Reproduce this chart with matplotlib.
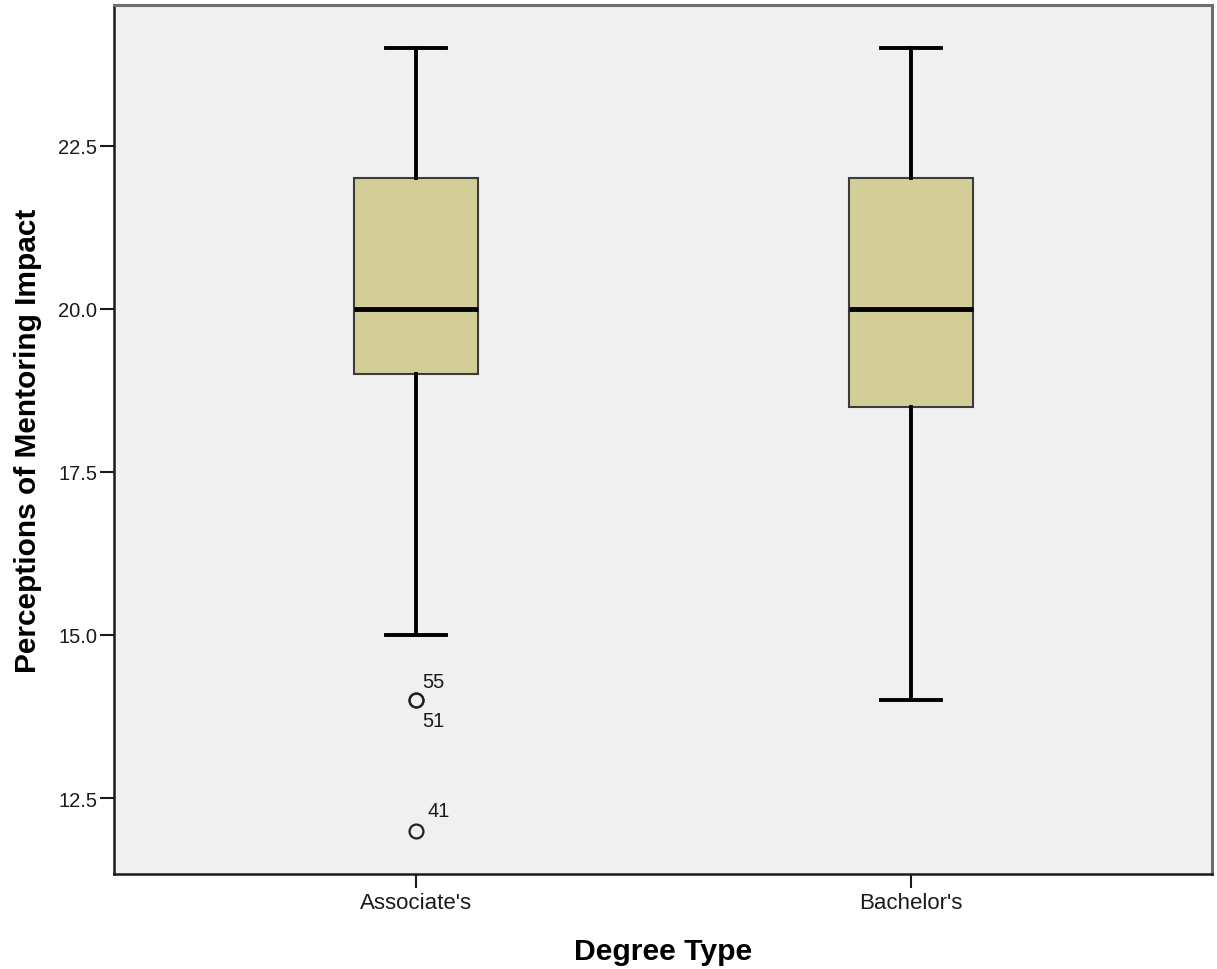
import matplotlib
matplotlib.use("Agg")
import matplotlib.pyplot as plt

# Summary statistics per degree type
groups = ["Associate's", "Bachelor's"]
whisker_low = [15.0, 14.0]
q1 = [19.0, 18.5]
medians = [20.0, 20.0]
q3 = [22.0, 22.0]
whisker_high = [24.0, 24.0]
outliers = [[14.0, 14.0, 12.0], []]
outlier_ids = [["55", "51", "41"], []]

plt.rcParams["font.family"] = ["Liberation Sans", "DejaVu Sans"]

fig = plt.figure(figsize=(12.17, 9.70), dpi=100)
ax = fig.add_axes([0.0937, 0.0979, 0.9022, 0.8959])
ax.set_facecolor("#f0f0f0")

stats = []
for i, name in enumerate(groups):
    stats.append({
        "label": name,
        "whislo": whisker_low[i],
        "q1": q1[i],
        "med": medians[i],
        "q3": q3[i],
        "whishi": whisker_high[i],
        "fliers": outliers[i],
    })

positions = [1, 2]
ax.bxp(stats, positions=positions, widths=0.25, patch_artist=True,
       showfliers=True, capwidths=0.12,
       boxprops=dict(facecolor="#d3ce97", edgecolor="#3c3c3c", linewidth=1.5),
       medianprops=dict(color="black", linewidth=3.5),
       whiskerprops=dict(color="black", linewidth=2.8),
       capprops=dict(color="black", linewidth=2.8),
       flierprops=dict(marker="o", markersize=10, markerfacecolor="none",
                       markeredgecolor="#222222", markeredgewidth=1.6))

# case labels beside the outliers
label_offsets = {"55": (6, 19), "51": (6, -20), "41": (11, 20)}
for i, ids in enumerate(outlier_ids):
    for val, cid in zip(outliers[i], ids):
        dx, dy = label_offsets[cid]
        ax.annotate(cid, (positions[i], val), xytext=(dx, dy),
                    textcoords="offset pixels", fontsize=14.5,
                    ha="left", va="center", color="#1a1a1a")

ax.set_xlim(0.39, 2.608)
ax.set_ylim(11.335, 24.657)
ax.set_yticks([12.5, 15.0, 17.5, 20.0, 22.5])
ax.set_yticklabels(["12.5", "15.0", "17.5", "20.0", "22.5"])
ax.set_xticks(positions)
ax.set_xticklabels(groups)
ax.tick_params(axis="both", direction="out", length=10, width=1.5,
               pad=2, colors="#1a1a1a")
ax.tick_params(axis="y", labelsize=14.5)
ax.tick_params(axis="x", labelsize=16, pad=3)

for side in ["left", "bottom"]:
    ax.spines[side].set_color("#1a1a1a")
    ax.spines[side].set_linewidth(1.8)
for side in ["top", "right"]:
    ax.spines[side].set_color("#6e6e6e")
    ax.spines[side].set_linewidth(2.2)

ax.set_xlabel("Degree Type", fontsize=21.7, fontweight="bold", labelpad=17)
ax.set_ylabel("Perceptions of Mentoring Impact", fontsize=21.5,
              fontweight="bold", labelpad=12)

fig.savefig("out.png", dpi=100)
